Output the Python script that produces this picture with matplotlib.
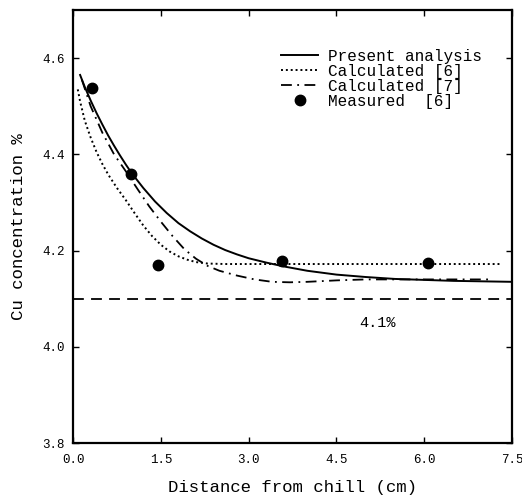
import matplotlib
matplotlib.use("Agg")
import matplotlib.pyplot as plt

# curves
x_present = [0.12, 0.2, 0.3, 0.4, 0.5, 0.6, 0.7, 0.8, 0.9, 1.0, 1.2, 1.4, 1.6, 1.8, 2.0, 2.2, 2.4, 2.6, 2.8,
             3.0, 3.3, 3.6, 4.0, 4.5, 5.0, 5.5, 6.0, 6.5, 7.0, 7.5]
y_present = [4.565, 4.54, 4.512, 4.486, 4.462, 4.439, 4.418, 4.398, 4.379, 4.361, 4.330, 4.302, 4.278, 4.257,
             4.240, 4.225, 4.212, 4.201, 4.192, 4.184, 4.175, 4.167, 4.158, 4.150, 4.145, 4.141, 4.139, 4.137,
             4.136, 4.135]

x_calc6 = [0.08, 0.12, 0.2, 0.3, 0.4, 0.5, 0.6, 0.75, 0.9, 1.05, 1.2, 1.35, 1.5, 1.65, 1.8, 1.95, 2.1, 2.3,
           2.6, 7.3]
y_calc6 = [4.535, 4.51, 4.47, 4.435, 4.405, 4.38, 4.358, 4.33, 4.305, 4.278, 4.252, 4.23, 4.212, 4.198, 4.188,
           4.181, 4.176, 4.173, 4.172, 4.172]

x_calc7 = [0.15, 0.3, 0.5, 0.7, 0.9, 1.1, 1.3, 1.5, 1.7, 1.9, 2.1, 2.3, 2.5, 2.8, 3.1, 3.4, 3.7, 4.0, 4.5,
           5.0, 6.0, 7.1]
y_calc7 = [4.555, 4.5, 4.445, 4.4, 4.365, 4.328, 4.292, 4.26, 4.23, 4.203, 4.183, 4.168, 4.158, 4.148, 4.14,
           4.135, 4.134, 4.135, 4.138, 4.14, 4.14, 4.14]

x_meas = [0.32, 0.99, 1.45, 3.57, 6.07]
y_meas = [4.538, 4.359, 4.169, 4.179, 4.175]

ref_level = 4.1
xticks = [0.0, 1.5, 3.0, 4.5, 6.0, 7.5]
yticks = [3.8, 4.0, 4.2, 4.4, 4.6]

FONT = "Liberation Mono"
plt.rcParams["font.family"] = FONT

fig = plt.figure(figsize=(5.22, 5.0), dpi=100)
ax = fig.add_axes([0.14, 0.114, 0.841, 0.866])

ax.plot(x_present, y_present, color="black", lw=1.4, label="Present analysis")
ax.plot(x_calc6, y_calc6, color="black", lw=1.4, ls=(0, (1, 1.5)), label="Calculated [6]")
ax.plot(x_calc7, y_calc7, color="black", lw=1.3, ls=(0, (6, 3, 1, 3)), label="Calculated [7]")
ax.plot(x_meas, y_meas, "o", color="black", ms=7.5, label="Measured  [6]")
ax.axhline(ref_level, color="black", lw=1.3, ls=(0, (6, 4)))
ax.text(5.2, 4.05, "4.1%", ha="center", va="center", fontsize=11)

ax.set_xlim(0, 7.5)
ax.set_ylim(3.8, 4.7)
ax.set_xticks(xticks)
ax.set_yticks(yticks)
ax.set_xticklabels([f"{v:.1f}" for v in xticks])
ax.set_yticklabels([f"{v:.1f}" for v in yticks])
ax.tick_params(direction="in", top=True, right=True, labelsize=9, length=4, width=1)
ax.tick_params(axis="x", pad=8)
ax.tick_params(axis="y", pad=6)
for s in ax.spines.values():
    s.set_linewidth(1.6)

ax.set_xlabel("Distance from chill (cm)", fontsize=12.5, labelpad=10)
ax.set_ylabel("Cu concentration %", fontsize=12.5, labelpad=12)

ax.legend(loc="upper left", bbox_to_anchor=(0.46, 0.925), frameon=False, fontsize=11.5,
          handlelength=2.3, handletextpad=0.6, labelspacing=0.0, borderaxespad=0)

fig.savefig("out.png", dpi=100)
